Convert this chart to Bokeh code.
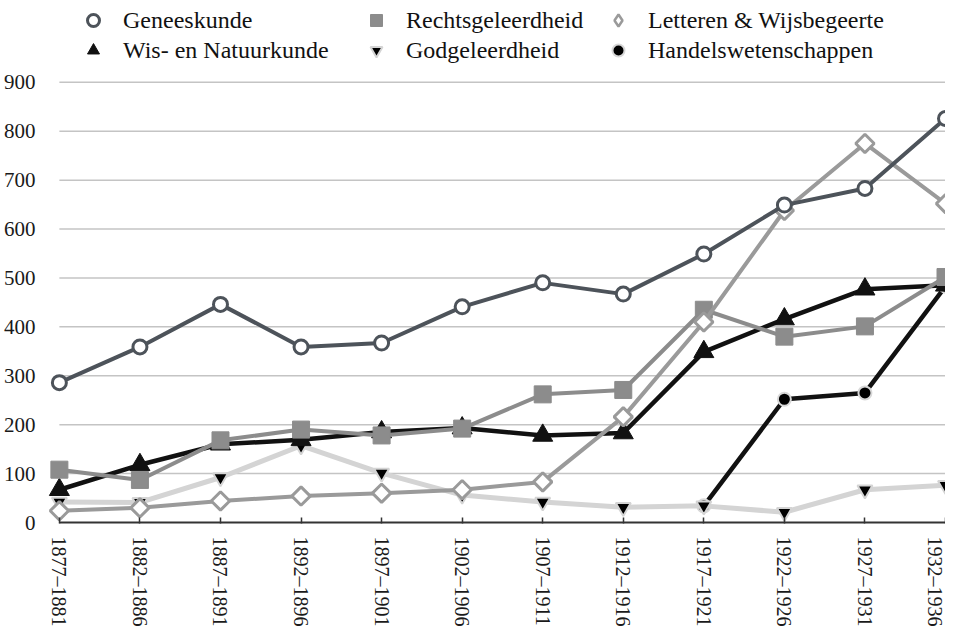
import math
from bokeh.plotting import figure
from bokeh.models import Range1d, FixedTicker, Legend, LegendItem
from bokeh.embed import file_html
from bokeh.resources import INLINE

periods = ["1877–1881", "1882–1886", "1887–1891", "1892–1896", "1897–1901", "1902–1906",
           "1907–1911", "1912–1916", "1917–1921", "1922–1926", "1927–1931", "1932–1936"]
geneeskunde = [286, 359, 446, 359, 367, 441, 490, 467, 549, 649, 683, 826]
wis_natuurkunde = [67, 118, 160, 169, 185, 193, 178, 183, 349, 416, 477, 485]
rechtsgeleerdheid = [108, 87, 168, 190, 178, 192, 262, 271, 435, 380, 401, 502]
godgeleerdheid = [42, 41, 92, 157, 101, 56, 42, 31, 34, 21, 67, 76]
letteren = [24, 30, 44, 54, 60, 67, 83, 216, 410, 638, 775, 652]
nan = float("nan")
handels = [nan, nan, nan, nan, nan, nan, nan, nan, 34, 252, 265, 483]
y_ticks = [0, 100, 200, 300, 400, 500, 600, 700, 800, 900]

x = list(range(len(periods)))
FONT = "Liberation Serif"

# frame spans the full height above the x axis; legend sits inside the frame above the 900 line
FRAME_H = 523
Y_TOP = y_ticks[-1] * FRAME_H / 441.0

p = figure(width=945, height=629, output_backend="svg", toolbar_location=None,
           x_range=Range1d(-0.1723, x[-1]), y_range=Range1d(y_ticks[0], Y_TOP),
           min_border_left=37, min_border_right=0, min_border_top=0, min_border_bottom=106)
p.outline_line_color = None
p.xgrid.visible = False
p.ygrid.visible = False

# horizontal grid lines from first to last category
gy = y_ticks[1:]
p.segment(x0=[x[0]] * len(gy), y0=gy, x1=[x[-1]] * len(gy), y1=gy,
          line_color="#c4c4c4", line_width=1.5)

# x axis
xa = p.xaxis[0]
xa.ticker = FixedTicker(ticks=x)
xa.major_label_overrides = {i: s for i, s in zip(x, periods)}
xa.major_label_orientation = "vertical"
xa.bounds = (x[0], x[-1])
xa.axis_line_color = "#333333"
xa.axis_line_width = 2
xa.major_tick_in = 5
xa.major_tick_out = 1
xa.major_tick_line_color = "#333333"
xa.major_tick_line_width = 1.5
xa.minor_tick_line_color = None
xa.major_label_text_font = FONT
xa.major_label_text_font_size = "20px"
xa.major_label_text_color = "#1a1a1a"
xa.major_label_standoff = 13

ya = p.yaxis[0]
ya.ticker = FixedTicker(ticks=y_ticks)
ya.axis_line_color = None
ya.major_tick_line_color = None
ya.minor_tick_line_color = None
ya.major_label_text_font = FONT
ya.major_label_text_font_size = "21px"
ya.major_label_text_color = "#1a1a1a"
ya.major_label_standoff = 4

# series (drawing order chosen to match overlaps)
p.line(x, handels, line_color="#111111", line_width=4.5)
r_han = p.scatter(x, handels, marker="circle", size=13, fill_color="#000000",
                  line_color="#d8d8d8", line_width=2)

p.line(x, godgeleerdheid, line_color="#d4d4d4", line_width=5)
r_god = p.scatter(x, godgeleerdheid, marker="inverted_triangle", size=15, fill_color="#000000",
                  line_color="#d4d4d4", line_width=2)

p.line(x, wis_natuurkunde, line_color="#111111", line_width=4.5)
r_wis = p.scatter(x, wis_natuurkunde, marker="triangle", size=20, fill_color="#111111",
                  line_color="#111111", line_width=1)

p.line(x, rechtsgeleerdheid, line_color="#8c8c8c", line_width=4)
r_rec = p.scatter(x, rechtsgeleerdheid, marker="square", size=17, fill_color="#8c8c8c",
                  line_color="#8c8c8c", line_width=1)

p.line(x, letteren, line_color="#9a9a9a", line_width=4)
p.scatter(x, letteren, marker="square", angle=math.pi / 4, size=13, fill_color="white",
          line_color="#9a9a9a", line_width=3)
# legend-only diamond key (single NaN point: nothing drawn in the plot)
r_let = p.scatter([nan], [nan], marker="diamond", size=13, fill_color="white",
                  line_color="#9a9a9a", line_width=2.5)

p.line(x, geneeskunde, line_color="#4d535a", line_width=4)
r_gen = p.scatter(x, geneeskunde, marker="circle", size=14, fill_color="white",
                  line_color="#4d535a", line_width=3)

GH = 30
def make_legend(items, vx):
    leg = Legend(items=items, location=(vx, 457), orientation="vertical")
    leg.padding = 0
    leg.margin = 0
    leg.spacing = 0
    leg.glyph_height = GH
    leg.glyph_width = GH
    leg.label_standoff = 15
    leg.border_line_color = None
    leg.background_fill_alpha = 0
    leg.label_text_font = FONT
    leg.label_text_font_size = "24px"
    leg.label_text_color = "#111111"
    p.add_layout(leg)

make_legend([LegendItem(label="Geneeskunde", renderers=[r_gen]),
             LegendItem(label="Wis- en Natuurkunde", renderers=[r_wis])], 33)
make_legend([LegendItem(label="Rechtsgeleerdheid", renderers=[r_rec]),
             LegendItem(label="Godgeleerdheid", renderers=[r_god])], 316)
make_legend([LegendItem(label="Letteren & Wijsbegeerte", renderers=[r_let]),
             LegendItem(label="Handelswetenschappen", renderers=[r_han])], 558)

open("out.html", "w").write(file_html(p, INLINE))
